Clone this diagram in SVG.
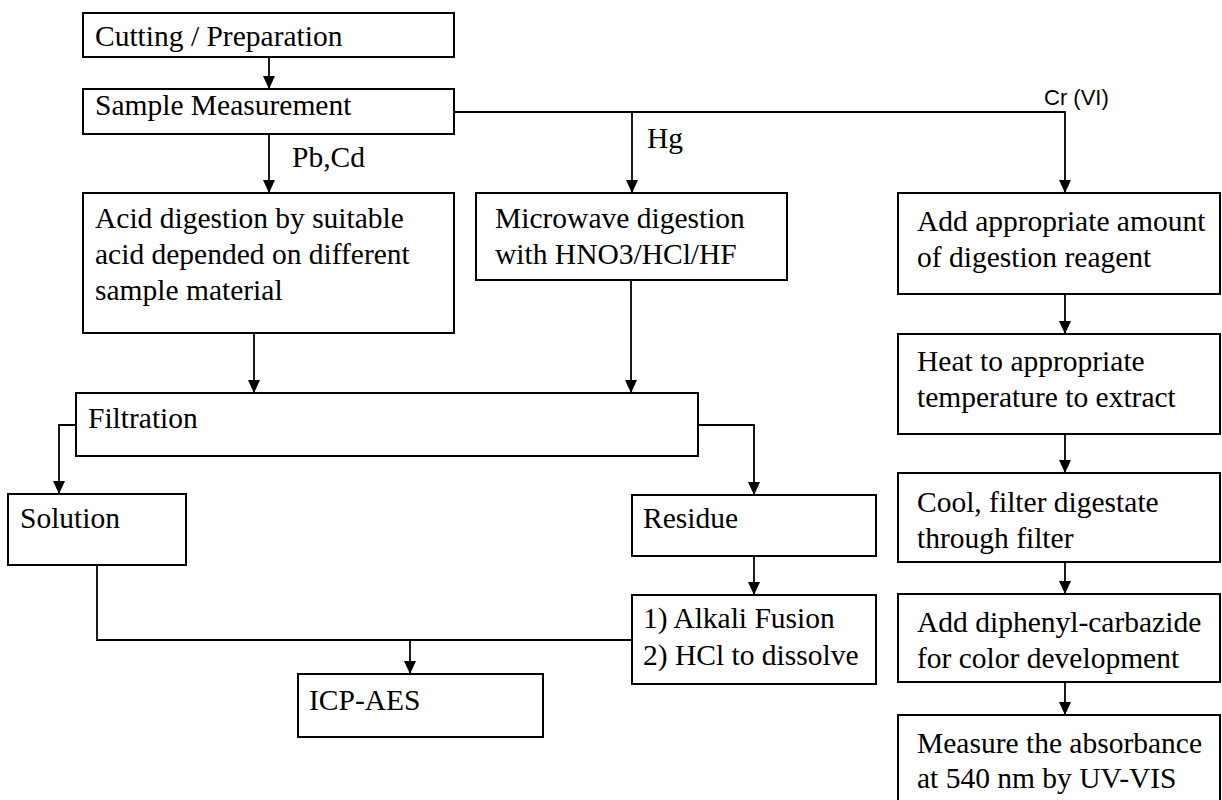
<svg xmlns="http://www.w3.org/2000/svg" width="1222" height="800" viewBox="0 0 1222 800">
<style>
.box{fill:#fff;stroke:#000;stroke-width:2}
.t{font-family:"Liberation Serif","Times New Roman",serif;font-size:29.5px;fill:#000}
.s{font-family:"Liberation Sans",Arial,sans-serif;font-size:22px;fill:#000}
.c{fill:none;stroke:#000;stroke-width:1.8}
</style>
<defs>
<marker id="ah" markerUnits="userSpaceOnUse" markerWidth="13" markerHeight="12" refX="13" refY="6" orient="auto">
<path d="M0,0 L13,6 L0,12 z" fill="#000"/>
</marker>
</defs>
<rect width="1222" height="800" fill="#fff"/>
<g id="connectors">
<line class="c" x1="269" y1="57" x2="269" y2="89" marker-end="url(#ah)"/>
<line class="c" x1="269" y1="134" x2="269" y2="193" marker-end="url(#ah)"/>
<polyline class="c" points="454,112 1065,112 1065,193" marker-end="url(#ah)"/>
<line class="c" x1="632" y1="112" x2="632" y2="193" marker-end="url(#ah)"/>
<line class="c" x1="254" y1="333" x2="254" y2="393" marker-end="url(#ah)"/>
<line class="c" x1="631" y1="280" x2="631" y2="393" marker-end="url(#ah)"/>
<polyline class="c" points="76,425 59,425 59,494" marker-end="url(#ah)"/>
<polyline class="c" points="698,425 754,425 754,495" marker-end="url(#ah)"/>
<line class="c" x1="754" y1="556" x2="754" y2="595" marker-end="url(#ah)"/>
<polyline class="c" points="97,565 97,640 632,640"/>
<line class="c" x1="410" y1="640" x2="410" y2="674" marker-end="url(#ah)"/>
<line class="c" x1="1065" y1="294" x2="1065" y2="334" marker-end="url(#ah)"/>
<line class="c" x1="1065" y1="434" x2="1065" y2="473" marker-end="url(#ah)"/>
<line class="c" x1="1065" y1="562" x2="1065" y2="594" marker-end="url(#ah)"/>
<line class="c" x1="1065" y1="682" x2="1065" y2="715" marker-end="url(#ah)"/>
<text class="t" x="292" y="167">Pb,Cd</text>
<text class="t" x="647" y="148">Hg</text>
<text class="s" x="1044" y="105">Cr (VI)</text>
</g>
<g id="cutting"><rect class="box" x="83" y="13" width="371" height="44"/><text class="t" x="95" y="46">Cutting / Preparation</text></g>
<g id="sample"><rect class="box" x="83" y="89" width="371" height="45"/><text class="t" x="95" y="115">Sample Measurement</text></g>
<g id="acid"><rect class="box" x="83" y="193" width="371" height="140"/>
<text class="t" x="95" y="228">Acid digestion by suitable</text>
<text class="t" x="95" y="264">acid depended on different</text>
<text class="t" x="95" y="300">sample material</text></g>
<g id="microwave"><rect class="box" x="476" y="193" width="311" height="87"/>
<text class="t" x="495" y="228">Microwave digestion</text>
<text class="t" x="495" y="264">with HNO3/HCl/HF</text></g>
<g id="filtration"><rect class="box" x="76" y="393" width="622" height="63"/><text class="t" x="88" y="428">Filtration</text></g>
<g id="solution"><rect class="box" x="8" y="494" width="178" height="71"/><text class="t" x="20" y="528">Solution</text></g>
<g id="residue"><rect class="box" x="632" y="495" width="244" height="61"/><text class="t" x="643" y="528">Residue</text></g>
<g id="alkali"><rect class="box" x="632" y="595" width="244" height="89"/>
<text class="t" x="643" y="628">1) Alkali Fusion</text>
<text class="t" x="643" y="665">2) HCl to dissolve</text></g>
<g id="icp"><rect class="box" x="298" y="674" width="245" height="63"/><text class="t" x="309" y="710">ICP-AES</text></g>
<g id="reagent"><rect class="box" x="898" y="193" width="322" height="101"/>
<text class="t" x="917" y="231">Add appropriate amount</text>
<text class="t" x="917" y="267">of digestion reagent</text></g>
<g id="heat"><rect class="box" x="898" y="334" width="322" height="100"/>
<text class="t" x="917" y="371">Heat to appropriate</text>
<text class="t" x="917" y="407">temperature to extract</text></g>
<g id="cool"><rect class="box" x="898" y="473" width="322" height="89"/>
<text class="t" x="917" y="512">Cool, filter digestate</text>
<text class="t" x="917" y="548">through filter</text></g>
<g id="diphenyl"><rect class="box" x="898" y="594" width="322" height="88"/>
<text class="t" x="917" y="632">Add diphenyl-carbazide</text>
<text class="t" x="917" y="668">for color development</text></g>
<g id="measure"><rect class="box" x="898" y="715" width="322" height="100"/>
<text class="t" x="917" y="753">Measure the absorbance</text>
<text class="t" x="917" y="788">at 540 nm by UV-VIS</text></g>
</svg>
